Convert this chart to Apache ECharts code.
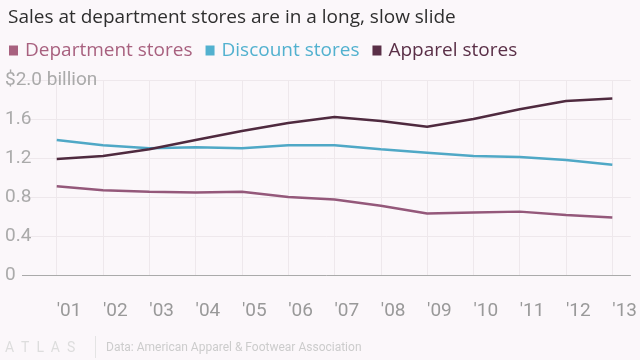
<!DOCTYPE html>
<html><head><meta charset="utf-8">
<script src="https://cdn.jsdelivr.net/npm/echarts@6/dist/echarts.min.js"></script>
<style>html,body{margin:0;padding:0;background:#fbf7fa;}#c{width:640px;height:360px;}</style>
</head><body><div id="c"></div>
<script>
const years = [2001,2002,2003,2004,2005,2006,2007,2008,2009,2010,2011,2012,2013];
const yearLabels = ["'01","'02","'03","'04","'05","'06","'07","'08","'09","'10","'11","'12","'13"];
const department = [0.91,0.87,0.855,0.845,0.855,0.80,0.775,0.71,0.63,0.64,0.65,0.615,0.59];
const discount = [1.385,1.33,1.30,1.31,1.30,1.33,1.33,1.29,1.255,1.22,1.21,1.18,1.13];
const apparel = [1.19,1.22,1.29,1.385,1.477,1.56,1.62,1.58,1.52,1.60,1.70,1.785,1.81];
const yTicks = [0,0.4,0.8,1.2,1.6,2.0];

const colors = {dept:'#a8617f', disc:'#52b1cf', app:'#5a2f47'};
const font = 'Roboto, "Noto Sans", sans-serif';
const hfont = '"Open Sans", Roboto, sans-serif';
function pairs(v){return years.map((y,i)=>[y,v[i]]);}
const chart = echarts.init(document.getElementById('c'));
chart.setOption({
  backgroundColor:'#fbf7fa',
  animation:false,
  textStyle:{fontFamily:font},
  title:{text:'Sales at department stores are in a long, slow slide',left:3,top:3,
    textStyle:{fontSize:19,fontWeight:'normal',color:'#2e2e2e',fontFamily:hfont}},
  legend:{left:4,top:36,itemWidth:9,itemHeight:10,itemGap:13,icon:'rect',
    data:[
      {name:'Department stores',textStyle:{color:colors.dept}},
      {name:'Discount stores',textStyle:{color:colors.disc}},
      {name:'Apparel stores',textStyle:{color:colors.app}}
    ],
    textStyle:{fontSize:19,fontFamily:hfont,padding:[0,0,0,2]}},
  grid:{left:22,right:5,top:80,bottom:85,containLabel:false},
  xAxis:{type:'value',min:2000.25,max:2013.4,
    axisLine:{show:false},
    axisTick:{show:false,customValues:years},
    axisLabel:{customValues:years,formatter:v=>yearLabels[years.indexOf(Math.round(v))]||'',
      color:'#999',fontSize:19,margin:27,align:'left'},
    splitLine:{show:true,lineStyle:{color:'#eee8ec',width:1}}},
  yAxis:{type:'value',min:0,max:2,interval:0.4,
    axisLabel:{align:'left',margin:17,color:'#aaa',fontSize:19,
      formatter:v=>v===0?'0':(Math.abs(v-2)<1e-9?'$2.0 billion':v.toFixed(1))},
    axisLine:{show:false},axisTick:{show:false},
    splitLine:{lineStyle:{color:'#eee8ec',width:1}}},
  series:[
    {name:'Department stores',type:'line',data:pairs(department),showSymbol:false,
      itemStyle:{color:colors.dept},lineStyle:{width:2.5,color:'#94587a'}},
    {name:'Discount stores',type:'line',data:pairs(discount),showSymbol:false,
      itemStyle:{color:colors.disc},lineStyle:{width:2.5,color:'#4fa8c6'}},
    {name:'Apparel stores',type:'line',data:pairs(apparel),showSymbol:false,
      itemStyle:{color:colors.app},lineStyle:{width:2.5,color:'#4f2a3f'},
      markLine:{silent:true,symbol:'none',label:{show:false},
        lineStyle:{color:'#aaa',width:1,type:'solid'},data:[{yAxis:0}]}}
  ],
  graphic:[
    {type:'text',left:5,top:341,style:{text:'A  T  L  A  S',fill:'#ddd',font:'14px '+font}},
    {type:'rect',shape:{x:95,y:336,width:1,height:22},style:{fill:'#e4e4e4'}},
    {type:'text',left:106,top:342,style:{text:'Data: American Apparel & Footwear Association',fill:'#ccc',font:'12px '+font}}
  ]
});
</script></body></html>
